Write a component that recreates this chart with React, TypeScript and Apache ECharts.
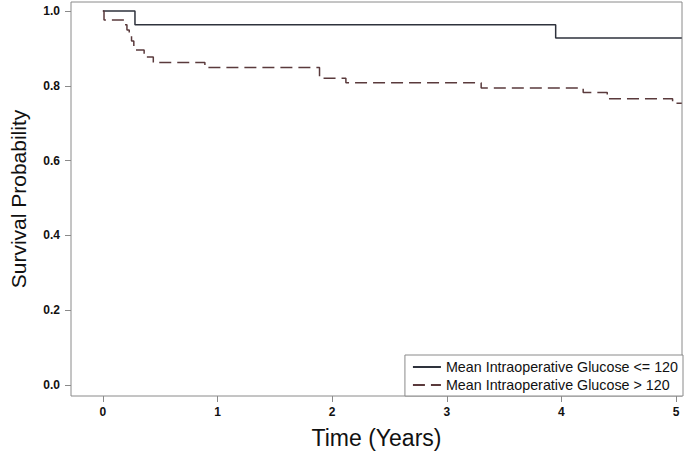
import React, { useEffect, useRef } from "react";
import * as echarts from "echarts";

const seriesNames = [
  "Mean Intraoperative Glucose <= 120",
  "Mean Intraoperative Glucose > 120",
];

// Kaplan-Meier step points: [time (years), survival after time]
const lowGlucose: [number, number][] = [
  [0, 1.0],
  [0.28, 0.963],
  [3.95, 0.928],
  [5.05, 0.928],
];

const highGlucose: [number, number][] = [
  [0, 1.0],
  [0.01, 0.976],
  [0.19, 0.963],
  [0.21, 0.949],
  [0.23, 0.935],
  [0.25, 0.92],
  [0.27, 0.896],
  [0.36, 0.877],
  [0.44, 0.862],
  [0.89, 0.849],
  [1.89, 0.82],
  [2.12, 0.808],
  [3.3, 0.794],
  [4.19, 0.782],
  [4.4, 0.765],
  [4.97, 0.753],
  [5.05, 0.753],
];

const xTicks = [0, 1, 2, 3, 4, 5];
const yTicks = [0, 0.2, 0.4, 0.6, 0.8, 1.0];

const FONT = "'Liberation Sans', Arial, sans-serif";

export default function App() {
  const ref = useRef<HTMLDivElement>(null);
  useEffect(() => {
    if (!ref.current) return;
    const chart = echarts.init(ref.current, undefined, { renderer: "svg" });
    chart.setOption({
      animation: false,
      backgroundColor: "#ffffff",
      grid: {
        left: 69,
        right: 3,
        top: 2,
        bottom: 65,
        show: true,
        borderColor: "#8a8a8a",
        borderWidth: 1,
        backgroundColor: "transparent",
      },
      xAxis: {
        type: "value",
        min: -0.278,
        max: 5.052,
        name: "Time (Years)",
        nameLocation: "middle",
        nameGap: 30,
        nameTextStyle: { fontFamily: FONT, fontSize: 23, color: "#111" },
        axisLine: { show: false, onZero: false },
        splitLine: { show: false },
        axisTick: { show: true, length: 6, lineStyle: { color: "#8a8a8a" }, customValues: xTicks },
        axisLabel: {
          customValues: xTicks,
          margin: 10,
          fontFamily: FONT,
          fontWeight: "bold",
          fontSize: 12,
          color: "#111",
        },
      },
      yAxis: {
        type: "value",
        min: -0.0294,
        max: 1.024,
        name: "Survival Probability",
        nameLocation: "middle",
        nameGap: 42,
        nameRotate: 90,
        nameTextStyle: { fontFamily: FONT, fontSize: 21, color: "#111" },
        axisLine: { show: false, onZero: false },
        splitLine: { show: false },
        axisTick: { show: true, length: 6, lineStyle: { color: "#8a8a8a" }, customValues: yTicks },
        axisLabel: {
          customValues: yTicks,
          margin: 11,
          formatter: (v: number) => v.toFixed(1),
          fontFamily: FONT,
          fontWeight: "bold",
          fontSize: 12,
          color: "#111",
        },
      },
      legend: {
        orient: "vertical",
        right: 2,
        bottom: 65,
        data: seriesNames,
        itemWidth: 28,
        itemHeight: 10,
        itemGap: 4,
        padding: [5, 5, 4, 7],
        borderColor: "#8a8a8a",
        borderWidth: 1,
        backgroundColor: "#fff",
        itemStyle: { opacity: 0 },
        textStyle: { fontFamily: FONT, fontSize: 14.3, color: "#111" },
      },
      series: [
        {
          name: seriesNames[0],
          type: "line",
          step: "end",
          symbol: "none",
          data: lowGlucose,
          lineStyle: { color: "#2e323c", width: 1.5, type: "solid" },
          itemStyle: { color: "#2e323c" },
        },
        {
          name: seriesNames[1],
          type: "line",
          step: "end",
          symbol: "none",
          data: highGlucose,
          lineStyle: { color: "#5a3a3c", width: 1.5, type: [12, 6] },
          itemStyle: { color: "#5a3a3c" },
        },
      ],
    });
    return () => chart.dispose();
  }, []);
  return (
    <div
      ref={ref}
      style={{ position: "fixed", left: 0, top: 0, width: 685, height: 461, background: "#fff" }}
    />
  );
}
